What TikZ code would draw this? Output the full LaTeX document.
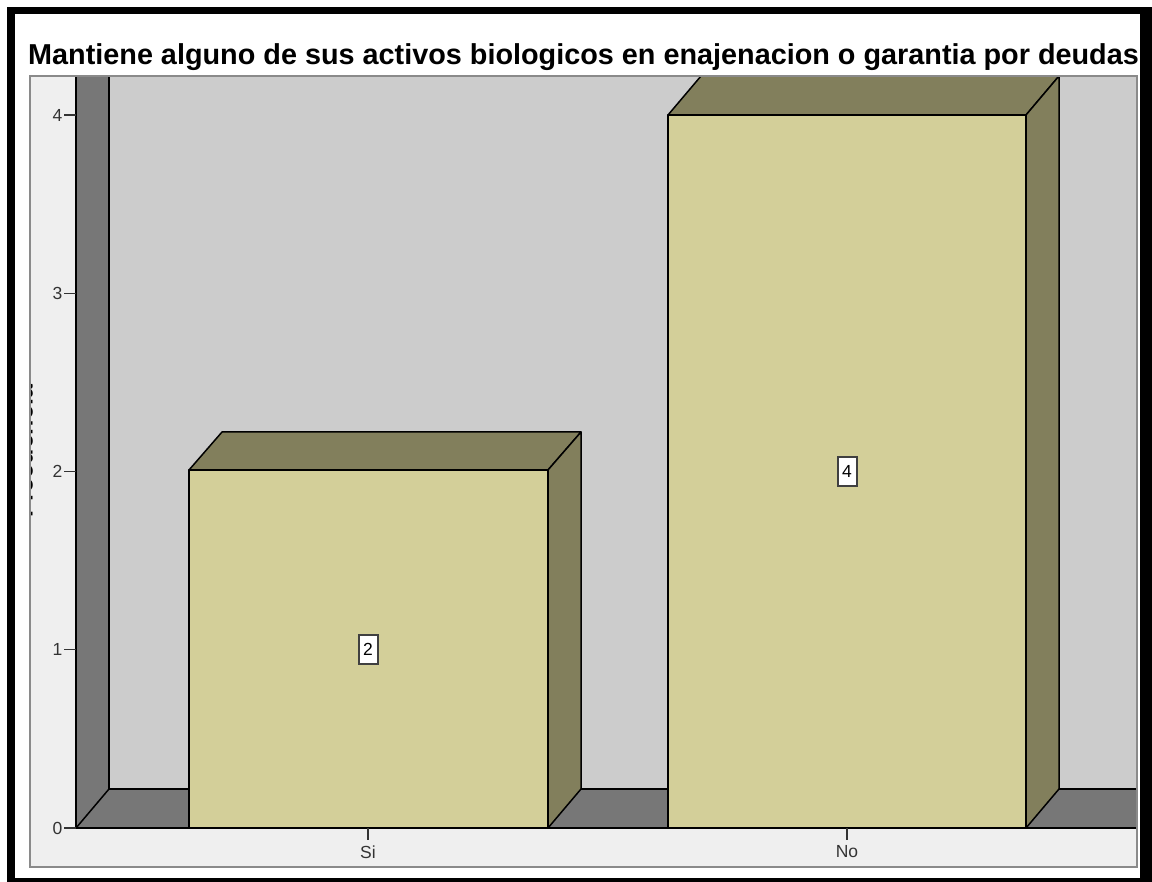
\documentclass[tikz,border=0pt]{standalone}
\usepackage{fontspec}
\setmainfont{Liberation Sans}
\definecolor{wallback}{HTML}{CCCCCC}
\definecolor{walldark}{HTML}{777777}
\definecolor{panelbg}{HTML}{EFEFEF}
\definecolor{panelline}{HTML}{8A8A8A}
\definecolor{barfront}{RGB}{211,207,153}
\definecolor{barside}{RGB}{130,127,92}
\definecolor{ticktext}{HTML}{333333}
\begin{document}
\begin{tikzpicture}[x=1pt,y=-1pt,
  edge/.style={draw=black,line width=1.5pt,line join=round},
  ticklabel/.style={font=\fontsize{17.5}{18}\selectfont,text=ticktext,inner sep=0pt},
  valuebox/.style={draw=black!75,line width=2pt,fill=white,minimum width=19pt,minimum height=29pt,inner sep=0pt,font=\fontsize{17.5}{18}\selectfont}]
\useasboundingbox (0,0) rectangle (1152,882);
% outer frame
\fill[black] (7,7) rectangle (1152,882);
\fill[white] (15,14) rectangle (1140,878);
% title
\node[anchor=base west,inner sep=0pt,font=\bfseries\fontsize{28.8}{30}\selectfont] (title) at (28,65) {Mantiene alguno de sus activos biologicos en enajenacion o garantia por deudas};
% panel
\fill[panelbg] (30,76) rectangle (1137,867);
% clipped axis title
\begin{scope}
\clip (30,300) rectangle (40,600);
\node[rotate=90,anchor=base,inner sep=0pt,font=\bfseries\fontsize{25}{26}\selectfont] (ytitle) at (32.5,451) {Frecuencia};
\end{scope}
% walls and floor
\fill[wallback] (109,76) rectangle (1137,789);
\fill[walldark] (76,76) -- (109,76) -- (109,789) -- (76,828) -- cycle;
\fill[walldark] (76,828) -- (109,789) -- (1137,789) -- (1137,828) -- cycle;
\draw[edge] (109,76) -- (109,789) -- (1137,789);
\draw[edge] (76,828) -- (109,789);
% bar Si
\filldraw[edge,fill=barfront] (189,470) rectangle (548,828);
\filldraw[edge,fill=barside] (189,470) -- (222,432) -- (581,432) -- (548,470) -- cycle;
\filldraw[edge,fill=barside] (548,470) -- (581,432) -- (581,789) -- (548,828) -- cycle;
% bar No
\filldraw[edge,fill=barfront] (668,115) rectangle (1026,828);
\filldraw[edge,fill=barside] (668,115) -- (701,76) -- (1059,76) -- (1026,115) -- cycle;
\filldraw[edge,fill=barside] (1026,115) -- (1059,76) -- (1059,789) -- (1026,828) -- cycle;
% axes
\draw[edge] (76,76) -- (76,828) -- (1137,828);
% panel border
\draw[panelline,line width=1.5pt] (30,76) rectangle (1137,867);
% y ticks
\foreach \v in {0,1,2,3,4}{
  \draw[black!80,line width=1.2pt] (64,828-178.25*\v) -- (76,828-178.25*\v);
  \node[ticklabel,anchor=east] (y\v) at (62.5,828-178.25*\v) {\v};
}
% x ticks
\draw[black!80,line width=1.2pt] (368,828) -- (368,840);
\draw[black!80,line width=1.2pt] (847,828) -- (847,840);
\node[ticklabel] (xsi) at (368,852) {Si};
\node[ticklabel] (xno) at (847,852) {No};
% value labels
\node[valuebox] (vsi) at (368,649) {2};
\node[valuebox] (vno) at (847,471.5) {4};
\end{tikzpicture}
\end{document}
